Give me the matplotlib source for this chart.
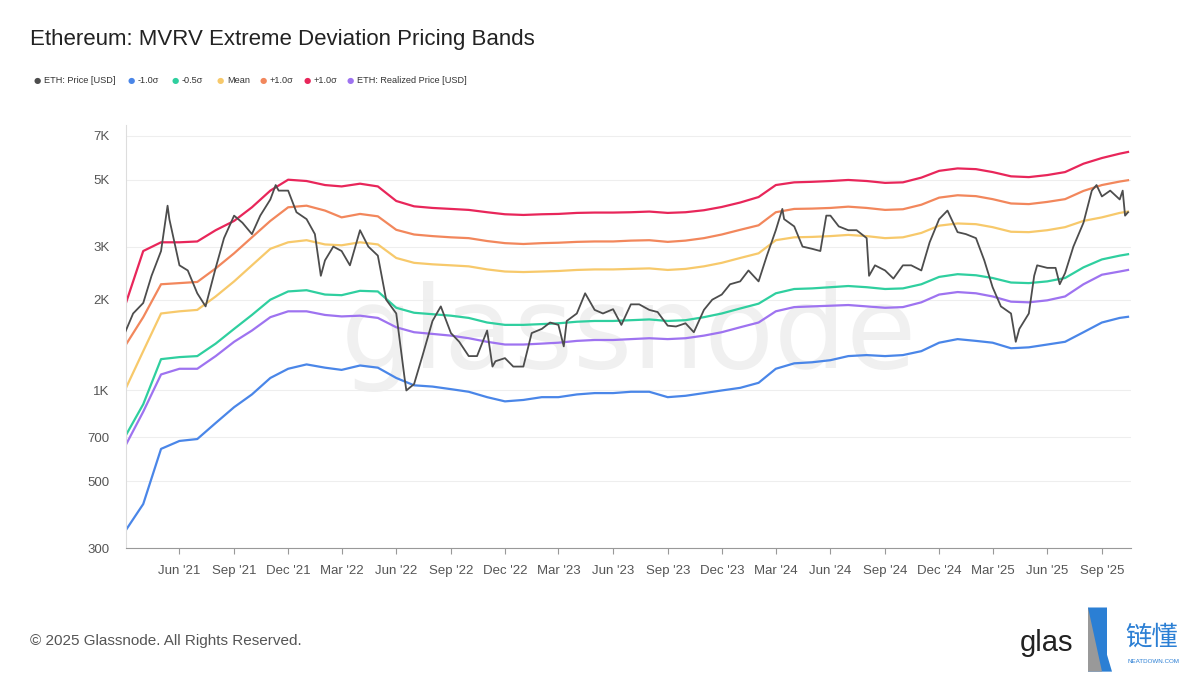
import matplotlib
matplotlib.use("Agg")
import matplotlib.pyplot as plt
import matplotlib.dates as mdates
from matplotlib.patches import Polygon
import pandas as pd

plt.rcParams['font.family'] = ['Liberation Sans', 'DejaVu Sans']

# monthly band values (first of month, Mar 2021 .. Oct 2025)
band_dates = pd.date_range("2021-03-01", "2025-10-01", freq="MS").tolist() + [pd.Timestamp("2025-10-15")]

minus1 = [340, 420, 640, 680, 690, 780, 880, 970, 1100, 1180,
          1220, 1190, 1170, 1210, 1190, 1100, 1040, 1030, 1010, 990, 950, 920,
          930, 950, 950, 970, 980, 980, 990, 990, 950, 960, 980, 1000,
          1020, 1060, 1180, 1230, 1240, 1260, 1300, 1310, 1300, 1310, 1350, 1440,
          1480, 1460, 1440, 1380, 1390, 1420, 1450, 1560, 1680, 1740, 1755]
minus05 = [700, 900, 1270, 1290, 1300, 1430, 1600, 1780, 2000, 2130,
           2150, 2080, 2070, 2140, 2130, 1880, 1810, 1790, 1770, 1740, 1680, 1650,
           1650, 1660, 1670, 1690, 1700, 1700, 1710, 1720, 1700, 1710, 1750, 1800,
           1870, 1940, 2100, 2170, 2180, 2200, 2220, 2200, 2170, 2180, 2250, 2380,
           2430, 2410, 2360, 2280, 2270, 2300, 2360, 2560, 2720, 2800, 2830]
mean = [1000, 1350, 1800, 1830, 1850, 2050, 2300, 2600, 2950, 3100,
        3150, 3050, 3030, 3100, 3050, 2750, 2650, 2620, 2600, 2580, 2520, 2480,
        2470, 2480, 2490, 2510, 2520, 2520, 2530, 2540, 2510, 2530, 2580, 2650,
        2750, 2850, 3150, 3220, 3230, 3250, 3280, 3250, 3200, 3220, 3330, 3520,
        3580, 3560, 3480, 3360, 3350, 3400, 3480, 3650, 3750, 3880, 3920]
plus1 = [1400, 1750, 2250, 2270, 2290, 2540, 2850, 3220, 3650, 4050,
         4100, 3950, 3750, 3850, 3780, 3410, 3290, 3250, 3220, 3200, 3130, 3080,
         3060, 3080, 3090, 3110, 3120, 3120, 3140, 3150, 3110, 3140, 3200, 3290,
         3410, 3530, 3900, 4000, 4010, 4030, 4070, 4030, 3970, 3990, 4130, 4360,
         4440, 4410, 4310, 4170, 4150, 4220, 4310, 4590, 4800, 4930, 4980]
plus1_top = [1900, 2900, 3100, 3100, 3120, 3400, 3650, 4050, 4600, 5000,
             4950, 4800, 4750, 4850, 4750, 4250, 4080, 4030, 4000, 3970, 3900, 3840,
             3820, 3840, 3850, 3880, 3890, 3890, 3900, 3920, 3880, 3900, 3960, 4060,
             4200, 4380, 4800, 4900, 4920, 4950, 4990, 4950, 4880, 4900, 5080, 5350,
             5450, 5420, 5300, 5130, 5100, 5180, 5300, 5650, 5900, 6100, 6180]
realized = [650, 850, 1130, 1180, 1180, 1300, 1450, 1580, 1750, 1830,
            1830, 1780, 1760, 1770, 1740, 1620, 1560, 1540, 1520, 1490, 1450, 1420,
            1420, 1430, 1440, 1460, 1470, 1470, 1480, 1490, 1480, 1490, 1520, 1560,
            1620, 1680, 1830, 1890, 1900, 1910, 1920, 1900, 1880, 1890, 1960, 2080,
            2120, 2100, 2050, 1970, 1960, 1990, 2050, 2250, 2420, 2480, 2510]

price_dates = ["2021-03-01", "2021-03-15", "2021-04-01", "2021-04-15", "2021-05-01", "2021-05-12",
               "2021-05-15", "2021-06-01", "2021-06-15", "2021-07-01", "2021-07-15", "2021-08-01",
               "2021-08-15", "2021-09-01", "2021-09-15", "2021-10-01", "2021-10-15", "2021-11-01",
               "2021-11-10", "2021-11-15", "2021-12-01", "2021-12-15", "2022-01-01", "2022-01-15",
               "2022-01-25", "2022-02-01", "2022-02-15", "2022-03-01", "2022-03-15", "2022-04-01",
               "2022-04-15", "2022-05-01", "2022-05-15", "2022-06-01", "2022-06-15", "2022-06-18",
               "2022-07-01", "2022-07-15", "2022-08-01", "2022-08-15", "2022-09-01", "2022-09-15",
               "2022-10-01", "2022-10-15", "2022-11-01", "2022-11-10", "2022-11-15", "2022-12-01",
               "2022-12-15", "2023-01-01", "2023-01-15", "2023-02-01", "2023-02-15", "2023-03-01",
               "2023-03-10", "2023-03-15", "2023-04-01", "2023-04-15", "2023-05-01", "2023-05-15",
               "2023-06-01", "2023-06-15", "2023-07-01", "2023-07-15", "2023-08-01", "2023-08-15",
               "2023-09-01", "2023-09-15", "2023-10-01", "2023-10-15", "2023-11-01", "2023-11-15",
               "2023-12-01", "2023-12-15", "2024-01-01", "2024-01-15", "2024-02-01", "2024-02-15",
               "2024-03-01", "2024-03-12", "2024-03-15", "2024-04-01", "2024-04-15", "2024-05-01",
               "2024-05-15", "2024-05-25", "2024-06-01", "2024-06-15", "2024-07-01", "2024-07-15",
               "2024-08-01", "2024-08-05", "2024-08-15", "2024-09-01", "2024-09-15", "2024-10-01",
               "2024-10-15", "2024-11-01", "2024-11-15", "2024-12-01", "2024-12-15", "2025-01-01",
               "2025-01-15", "2025-02-01", "2025-02-15", "2025-03-01", "2025-03-15", "2025-04-01",
               "2025-04-09", "2025-04-15", "2025-05-01", "2025-05-10", "2025-05-15", "2025-06-01",
               "2025-06-15", "2025-06-22", "2025-07-01", "2025-07-15", "2025-08-01", "2025-08-15",
               "2025-08-23", "2025-09-01", "2025-09-15", "2025-10-01", "2025-10-06", "2025-10-10",
               "2025-10-15"]
price = [1550, 1800, 1950, 2400, 2900, 4100,
         3700, 2600, 2500, 2100, 1900, 2550,
         3200, 3800, 3600, 3300, 3800, 4300,
         4800, 4600, 4600, 3900, 3700, 3300,
         2400, 2700, 3000, 2900, 2600, 3400,
         3000, 2800, 2000, 1800, 1100, 1000,
         1050, 1300, 1700, 1900, 1550, 1450,
         1300, 1300, 1580, 1200, 1250, 1280,
         1200, 1200, 1550, 1600, 1680, 1650,
         1400, 1700, 1800, 2100, 1850, 1800,
         1860, 1650, 1930, 1930, 1850, 1820,
         1640, 1630, 1670, 1560, 1850, 2000,
         2080, 2250, 2300, 2500, 2300, 2800,
         3400, 4000, 3700, 3500, 3000, 2950,
         2900, 3800, 3800, 3500, 3400, 3400,
         3200, 2400, 2600, 2500, 2350, 2600,
         2600, 2500, 3100, 3700, 3950, 3350,
         3300, 3200, 2700, 2200, 1900, 1800,
         1450, 1600, 1800, 2400, 2600, 2550,
         2550, 2250, 2450, 3000, 3600, 4600,
         4800, 4400, 4600, 4300, 4600, 3800,
         3900]

legend_labels = ["ETH: Price [USD]", "-1.0σ", "-0.5σ", "Mean", "+1.0σ", "+1.0σ", "ETH: Realized Price [USD]"]
colors = ["#4d4d4d", "#4a86e8", "#2fcf9f", "#f7c96b", "#f2875c", "#e8265a", "#9e73f0"]
ytick_vals = [300, 500, 700, 1000, 2000, 3000, 5000, 7000]
ytick_labels = ["300", "500", "700", "1K", "2K", "3K", "5K", "7K"]

fig = plt.figure(figsize=(12, 6.75), dpi=100)
ax = fig.add_axes([0.105, 0.188, 0.8375, 0.627])

ax.text(0.5, 0.5, "glassnode", transform=ax.transAxes, ha="center", va="center",
        fontsize=82, color="#f0f0f0", zorder=0, family="DejaVu Sans")

bands = [minus1, minus05, mean, plus1, plus1_top, realized]
for vals, c in zip(bands, colors[1:]):
    ax.plot(band_dates, vals, color=c, lw=1.6, zorder=2)
ax.plot(pd.to_datetime(price_dates), price, color=colors[0], lw=1.3, zorder=3)

ax.set_yscale("log")
ax.set_ylim(300, 7600)
ax.set_xlim(pd.Timestamp("2021-03-03"), pd.Timestamp("2025-10-20"))
ax.set_yticks(ytick_vals)
ax.set_yticklabels(ytick_labels)
ax.yaxis.set_minor_locator(matplotlib.ticker.NullLocator())
ax.xaxis.set_major_locator(mdates.MonthLocator(bymonth=[3, 6, 9, 12]))
ax.xaxis.set_major_formatter(mdates.DateFormatter("%b '%y"))
ax.grid(axis="y", color="#eeeeee", lw=0.8)
for s in ["top", "right"]:
    ax.spines[s].set_visible(False)
ax.spines["left"].set_color("#dddddd")
ax.spines["bottom"].set_color("#999999")
ax.tick_params(axis="both", colors="#555555", labelsize=9.5, length=0, pad=12)
ax.tick_params(axis="x", length=4, color="#999999", pad=8)

fig.text(0.025, 0.933, "Ethereum: MVRV Extreme Deviation Pricing Bands", fontsize=16, color="#222222")

legend_x = [34, 128, 172, 217, 260, 304, 347]
for px, lab, c in zip(legend_x, legend_labels, colors):
    fig.text(px / 1200, 0.881, "●", color=c, fontsize=6, va="center", family="DejaVu Sans")
    fig.text((px + 10) / 1200, 0.881, lab, fontsize=6.6, color="#333333", va="center",
             family=["Liberation Sans", "DejaVu Sans"])

fig.text(0.025, 0.045, "© 2025 Glassnode. All Rights Reserved.", fontsize=11, color="#555555")

# logo bits
fig.text(1020 / 1200, 0.035, "glas", fontsize=21, color="#222222")
fig.patches.append(Polygon([[1088 / 1200, 0.005], [1088 / 1200, 0.10], [1107 / 1200, 0.10],
                            [1107 / 1200, 0.03], [1112 / 1200, 0.005]], closed=True,
                           transform=fig.transFigure, facecolor="#2b7fd4", edgecolor="none"))
fig.patches.append(Polygon([[1088 / 1200, 0.005], [1088 / 1200, 0.10], [1102 / 1200, 0.005]],
                           closed=True, transform=fig.transFigure, facecolor="#999999", edgecolor="none"))
fig.text(1125 / 1200, 0.045, "链懂", fontsize=19, color="#2b7fd4", family=["Noto Sans CJK SC", "DejaVu Sans"])
fig.text(1127 / 1200, 0.018, "NEATDOWN.COM", fontsize=4.5, color="#2b7fd4")

fig.savefig("out.png", dpi=100)
